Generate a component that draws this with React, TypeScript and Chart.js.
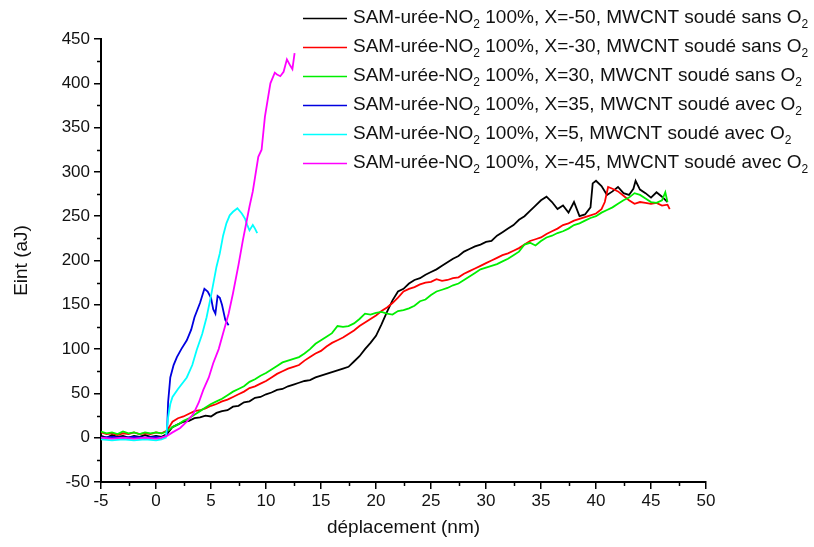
import React, { useEffect, useRef } from 'react';
import { Chart, registerables } from 'chart.js';
Chart.register(...registerables);

// ---------- data (x: déplacement nm, y: Eint aJ) ----------
const black: [number, number][] = [
  [-5,2],[-4.5,0],[-4,3],[-3.5,1],[-3,2],[-2.5,0],[-2,2],[-1.5,1],[-1,3],[-0.5,1],[0,2],[0.5,1],
  [1,4],[1.5,12],[2,15],[2.5,18],[3,19],[3.5,22],[4,23],[4.5,25],[5,24],[5.5,28],[6,30],[6.5,31],
  [7,35],[7.5,36],[8,40],[8.5,41],[9,45],[9.5,46],[10,49],[10.5,51],[11,54],[11.5,55],[12,58],[12.5,60],
  [13,62],[13.5,64],[14,65],[14.5,68],[15,70],[15.5,72],[16,74],[16.5,76],[17,78],[17.5,80],[18,86],[18.5,92],
  [19,100],[19.5,107],[20,115],[20.5,128],[21,142],[21.5,155],[22,165],[22.5,168],[23,174],[23.5,178],[24,180],[24.5,184],
  [25,187],[25.5,190],[26,194],[26.5,198],[27,202],[27.5,205],[28,210],[28.5,213],[29,216],[29.5,218],[30,221],[30.5,222],
  [31,228],[31.5,232],[32,236],[32.5,240],[33,246],[33.5,250],[34,256],[34.5,262],[35,268],[35.5,272],[36,266],[36.5,258],
  [37,262],[37.5,254],[38,266],[38.5,250],[39,252],[39.5,260],
  [39.7,287],[40,290],[40.5,284],[41,274],[41.5,278],[42,283],[42.5,276],[43,274],[43.4,281],[43.6,290],[44,280],[44.5,276],[45,271],[45.5,277],[46,272],[46.5,266]
];

const red: [number, number][] = [
  [-5,6],[-4.5,4],[-4,5],[-3.5,3],[-3,5],[-2.5,4],[-2,6],[-1.5,4],[-1,5],[-0.5,4],[0,6],[0.5,5],
  [1,8],[1.5,18],[2,22],[2.5,24],[3,27],[3.5,30],[4,31],[4.5,33],[5,36],[5.5,38],[6,41],[6.5,43],
  [7,46],[7.5,49],[8,52],[8.5,56],[9,58],[9.5,61],[10,64],[10.5,68],[11,72],[11.5,75],[12,78],[12.5,80],
  [13,82],[13.5,87],[14,91],[14.5,95],[15,98],[15.5,103],[16,107],[16.5,110],[17,113],[17.5,117],[18,121],[18.5,126],
  [19,130],[19.5,134],[20,138],[20.5,143],[21,147],[21.5,152],[22,158],[22.5,165],[23,168],[23.5,170],[24,173],[24.5,175],
  [25,176],[25.5,179],[26,177],[26.5,178],[27,180],[27.5,181],[28,185],[28.5,188],[29,191],[29.5,194],[30,197],[30.5,200],
  [31,203],[31.5,206],[32,208],[32.5,211],[33,214],[33.5,218],[34,222],[34.5,224],[35,226],[35.5,230],[36,233],[36.5,236],
  [37,240],[37.5,242],[38,245],[38.5,247],[39,249],[39.5,251],[40,253],[40.5,258],[40.8,266],[41.1,283],[41.5,281],[42,278],
  [42.5,273],[43,268],[43.5,264],[44,266],[44.5,265],[45,264],[45.5,265],[46,262],[46.5,263],[46.7,258]
];

const green: [number, number][] = [
  [-5,7],[-4.5,5],[-4,6],[-3.5,4],[-3,7],[-2.5,5],[-2,6],[-1.5,4],[-1,6],[-0.5,5],[0,6],[0.5,5],
  [1,7],[1.5,12],[2,15],[2.5,19],[3,22],[3.5,26],[4,30],[4.5,34],[5,38],[5.5,41],[6,44],[6.5,48],
  [7,52],[7.5,55],[8,58],[8.5,63],[9,66],[9.5,70],[10,73],[10.5,77],[11,81],[11.5,85],[12,87],[12.5,89],
  [13,91],[13.5,95],[14,100],[14.5,106],[15,110],[15.5,114],[16,118],[16.5,126],[17,125],[17.5,126],[18,129],[18.5,134],
  [19,140],[19.5,139],[20,141],[20.5,142],[21,140],[21.5,139],[22,143],[22.5,144],[23,146],[23.5,149],[24,154],[24.5,156],
  [25,161],[25.5,165],[26,167],[26.5,169],[27,172],[27.5,174],[28,178],[28.5,182],[29,186],[29.5,190],[30,192],[30.5,194],
  [31,196],[31.5,199],[32,202],[32.5,206],[33,210],[33.5,218],[34,220],[34.5,217],[35,222],[35.5,226],[36,228],[36.5,231],
  [37,233],[37.5,236],[38,240],[38.5,242],[39,245],[39.5,248],[40,250],[40.5,254],[41,257],[41.5,260],[42,264],[42.5,268],
  [43,271],[43.5,276],[44,274],[44.5,270],[45,266],[45.5,265],[46,268],[46.3,277],[46.5,266]
];

const blue: [number, number][] = [
  [-5,0],[-4,1],[-3,0],[-2,1],[-1,0],[0,1],[0.5,0],[0.9,2],[1.0,5],[1.1,40],[1.3,68],[1.6,82],
  [1.9,91],[2.3,100],[2.8,110],[3.2,122],[3.5,136],[4.0,152],[4.4,168],[4.7,165],[5.0,158],[5.2,145],[5.4,140],[5.6,160],
  [5.8,158],[6.0,150],[6.3,133],[6.6,127]
];

const cyan: [number, number][] = [
  [-5,-2],[-4,-3],[-3,-2],[-2,-3],[-1,-2],[0,-3],[0.5,-2],[0.9,0],[1.1,23],[1.3,38],[1.5,46],[2,55],
  [2.8,68],[3.3,82],[3.7,99],[4.2,117],[4.6,136],[5.0,160],[5.5,193],[5.8,208],[6.1,228],[6.4,242],[6.7,251],[7.0,255],
  [7.4,259],[7.8,253],[8.1,247],[8.3,240],[8.5,234],[8.8,240],[9.0,236],[9.2,231]
];

const magenta: [number, number][] = [
  [-5,0],[-4,-1],[-3,0],[-2,-1],[-1,0],[0,-1],[0.5,0],[1.0,2],[1.5,6],[2.2,11],[2.8,18],[3.4,27],
  [3.9,40],[4.3,54],[4.8,68],[5.2,84],[5.7,100],[6.1,118],[6.6,140],[7.0,163],[7.5,195],[7.9,223],[8.5,261],[8.8,278],
  [9.3,317],[9.6,325],[9.9,362],[10.2,385],[10.4,400],[10.8,412],[11.0,410],[11.3,408],[11.6,413],[11.9,427],[12.2,420],[12.4,416],
  [12.6,434]
];

const seriesData = [black, red, green, blue, cyan, magenta];
const seriesColors = ['#000000', '#ff0000', '#00ee00', '#0000e0', '#00ffff', '#ff00ff'];
const legendMiddle = [
  ' 100%, X=-50, MWCNT soudé sans O',
  ' 100%, X=-30, MWCNT soudé sans O',
  ' 100%, X=30, MWCNT soudé sans O',
  ' 100%, X=35, MWCNT soudé avec O',
  ' 100%, X=5, MWCNT soudé avec O',
  ' 100%, X=-45, MWCNT soudé avec O',
];
const legendPrefix = 'SAM-urée-NO';
const subscript = '2';

const xMin = -5, xMax = 50, xStep = 5, xMinor = 2.5;
const yMin = -50, yMax = 450, yStep = 50, yMinor = 25;
const xTitle = 'déplacement (nm)';
const yTitle = 'Eint (aJ)';

const FONT = '"Liberation Sans", Arial, sans-serif';

const overlay = {
  id: 'overlay',
  afterDraw(chart: any) {
    const ctx = chart.ctx as CanvasRenderingContext2D;
    const xs = chart.scales.x, ys = chart.scales.y;
    const area = chart.chartArea;
    ctx.save();
    ctx.strokeStyle = '#000';
    ctx.lineWidth = 1.5;
    // minor ticks
    for (let v = xMin + xMinor; v < xMax; v += xStep) {
      const px = Math.round(xs.getPixelForValue(v)) + 0.5;
      ctx.beginPath(); ctx.moveTo(px, area.bottom); ctx.lineTo(px, area.bottom + 4); ctx.stroke();
    }
    for (let v = yMin + yMinor; v < yMax; v += yStep) {
      const py = Math.round(ys.getPixelForValue(v)) + 0.5;
      ctx.beginPath(); ctx.moveTo(area.left, py); ctx.lineTo(area.left - 4, py); ctx.stroke();
    }
    // legend
    const lx0 = 303, lx1 = 347, tx = 353, top = 18, gap = 29;
    ctx.textBaseline = 'middle';
    ctx.textAlign = 'left';
    legendMiddle.forEach((mid, i) => {
      const y = top + i * gap;
      ctx.strokeStyle = seriesColors[i];
      ctx.lineWidth = 1.5;
      ctx.beginPath(); ctx.moveTo(lx0, y + 0.5); ctx.lineTo(lx1, y + 0.5); ctx.stroke();
      ctx.fillStyle = '#111';
      let x = tx;
      ctx.font = `19px ${FONT}`;
      ctx.fillText(legendPrefix, x, y); x += ctx.measureText(legendPrefix).width;
      ctx.font = `12px ${FONT}`;
      ctx.fillText(subscript, x, y + 7); x += ctx.measureText(subscript).width;
      ctx.font = `19px ${FONT}`;
      ctx.fillText(mid, x, y); x += ctx.measureText(mid).width;
      ctx.font = `12px ${FONT}`;
      ctx.fillText(subscript, x, y + 7);
    });
    ctx.restore();
  },
};

export default function App() {
  const ref = useRef<HTMLCanvasElement>(null);
  useEffect(() => {
    document.body.style.margin = '0';
    const canvas = ref.current!;
    const chart = new Chart(canvas, {
      type: 'line',
      data: {
        datasets: seriesData.map((d, i) => ({
          data: d.map(([x, y]) => ({ x, y })),
          borderColor: seriesColors[i],
          backgroundColor: seriesColors[i],
          borderWidth: 1.8,
          pointRadius: 0,
          tension: 0,
          fill: false,
          order: seriesData.length - i,
        })),
      },
      options: {
        responsive: false,
        animation: false,
        devicePixelRatio: 1,
        layout: { padding: { left: 0, top: 39, right: 108, bottom: 0 } },
        plugins: { legend: { display: false }, tooltip: { enabled: false } },
        scales: {
          x: {
            type: 'linear',
            min: xMin, max: xMax,
            afterFit: (s: any) => { s.height = 65; },
            ticks: { stepSize: xStep, color: '#111', font: { size: 17, family: FONT }, padding: 2, maxRotation: 0 },
            grid: { display: true, drawOnChartArea: false, drawTicks: true, tickLength: 7, color: '#000', lineWidth: 1.5 },
            border: { display: true, color: '#000', width: 2 },
            title: { display: true, text: xTitle, color: '#111', font: { size: 19, family: FONT }, padding: { top: 0, bottom: 8 } },
          },
          y: {
            type: 'linear',
            min: yMin, max: yMax,
            afterFit: (s: any) => { s.width = 101; },
            ticks: { stepSize: yStep, color: '#111', font: { size: 17, family: FONT }, padding: 4 },
            grid: { display: true, drawOnChartArea: false, drawTicks: true, tickLength: 7, color: '#000', lineWidth: 1.5 },
            border: { display: true, color: '#000', width: 2 },
            title: { display: true, text: yTitle, color: '#111', font: { size: 19, family: FONT }, padding: { top: 10, bottom: 0 } },
          },
        },
      },
      plugins: [overlay],
    });
    return () => chart.destroy();
  }, []);
  return <canvas ref={ref} width={814} height={547} style={{ display: 'block' }} />;
}
